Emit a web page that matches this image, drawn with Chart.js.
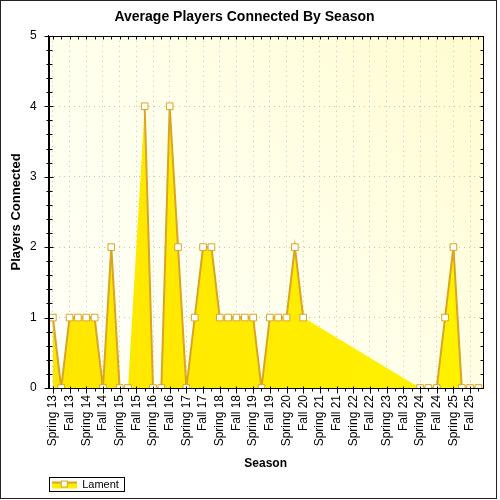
<!DOCTYPE html>
<html>
<head>
<meta charset="utf-8">
<script src="https://cdn.jsdelivr.net/npm/chart.js@4.4.1/dist/chart.umd.min.js"></script>
<style>
  html, body { margin: 0; padding: 0; background: #fff; }
</style>
</head>
<body>
<canvas id="grafico" width="500" height="500"></canvas>
<script>
const seasons = [
  "Spring 13", "Summer 13", "Fall 13", "Winter 13",
  "Spring 14", "Summer 14", "Fall 14", "Winter 14",
  "Spring 15", "Summer 15", "Fall 15", "Winter 15",
  "Spring 16", "Summer 16", "Fall 16", "Winter 16",
  "Spring 17", "Summer 17", "Fall 17", "Winter 17",
  "Spring 18", "Summer 18", "Fall 18", "Winter 18",
  "Spring 19", "Summer 19", "Fall 19", "Winter 19",
  "Spring 20", "Summer 20", "Fall 20", "Winter 20",
  "Spring 21", "Summer 21", "Fall 21", "Winter 21",
  "Spring 22", "Summer 22", "Fall 22", "Winter 22",
  "Spring 23", "Summer 23", "Fall 23", "Winter 23",
  "Spring 24", "Summer 24", "Fall 24", "Winter 24",
  "Spring 25", "Summer 25", "Fall 25", "Winter 25",
]
// null = no data for that season (area is still filled across the gap, line is not)
const lament = [
  1, 0, 1, 1,
  1, 1, 0, 2,
  0, 0, null, 4,
  0, 0, 4, 2,
  0, 1, 2, 2,
  1, 1, 1, 1,
  1, 0, 1, 1,
  1, 2, 1, null,
  null, null, null, null,
  null, null, null, null,
  null, null, null, null,
  0, 0, 0, 1,
  2, 0, 0, 0,
]
const yMin = 0
const yMax = 5
const yStep = 1

const FONT = "'Liberation Sans', Arial, sans-serif"
const GOLD = "#DAA520"
Chart.defaults.font.family = FONT
Chart.defaults.color = "#000"

// legend symbol: yellow band, gold line, white square marker
const icon = document.createElement("canvas")
icon.width = 25
icon.height = 10
const ic = icon.getContext("2d")
ic.fillStyle = "#FFEC00"
ic.fillRect(0, 2, 25, 7)
ic.fillStyle = GOLD
ic.fillRect(0, 2, 25, 2)
ic.fillStyle = "#fff"
ic.fillRect(9.5, 1.5, 6, 6)
ic.strokeStyle = GOLD
ic.lineWidth = 1
ic.strokeRect(9.5, 1.5, 6, 6)

function areaFill(ctx){
  const a = ctx.chart.chartArea
  if (!a) return "#FFEC00"
  const g = ctx.chart.ctx.createLinearGradient(a.left, 0, a.right, 0)
  g.addColorStop(0, "#FFE600")
  g.addColorStop(1, "#FFF200")
  return g
}

function line(ctx, x1, y1, x2, y2){
  ctx.beginPath()
  ctx.moveTo(x1, y1)
  ctx.lineTo(x2, y2)
  ctx.stroke()
}

const decor = {
  id: "decor",
  beforeDraw(chart){
    const ctx = chart.ctx
    const a = chart.chartArea
    ctx.save()
    ctx.fillStyle = "#fff"
    ctx.fillRect(0, 0, chart.width, chart.height)
    const g = ctx.createLinearGradient(a.left, a.bottom, a.right, a.top)
    g.addColorStop(0, "#FFFFF8")
    g.addColorStop(0.5, "#FFFFEA")
    g.addColorStop(1, "#FFFCCF")
    ctx.fillStyle = g
    ctx.fillRect(a.left, a.top, a.right - a.left, a.bottom - a.top)
    ctx.restore()
  },
  afterDatasetsDraw(chart){
    const ctx = chart.ctx
    const a = chart.chartArea
    const xs = chart.scales.x
    const ys = chart.scales.y
    ctx.save()
    ctx.strokeStyle = "#000"
    ctx.lineWidth = 1
    const L = Math.round(a.left) + 0.5
    const R = Math.round(a.right) + 0.5
    const T = Math.round(a.top) + 0.5
    const B = Math.round(a.bottom) + 0.5
    ctx.strokeRect(L, T, R - L, B - T)
    seasons.forEach((s, i) => {
      const px = Math.round(xs.getPixelForValue(i)) + 0.5
      if (i % 2 === 0) line(ctx, px, B - 2, px, B + 5)
      else line(ctx, px, B, px, B + 3)
      line(ctx, px, T, px, T + 3)
    })
    for (let k = 0; k <= (yMax - yMin) * 5; k++){
      const py = Math.round(ys.getPixelForValue(yMin + k / 5)) + 0.5
      if (k % 5 === 0) line(ctx, L - 5, py, L + 4, py)
      else line(ctx, L - 3, py, L + 3, py)
      line(ctx, R - 3, py, R, py)
    }
    ctx.restore()
  },
  afterDraw(chart){
    const ctx = chart.ctx
    ctx.save()
    ctx.strokeStyle = "#000"
    ctx.lineWidth = 1
    const hb = chart.legend.legendHitBoxes[0]
    if (hb){
      ctx.strokeRect(Math.round(hb.left - 3) + 0.5, Math.round(hb.top - 2) + 0.5, Math.round(hb.width + 8), 14)
    }
    ctx.strokeStyle = "#222"
    ctx.strokeRect(0.5, 0.5, 496, 498)
    ctx.restore()
  },
}

new Chart(document.getElementById("grafico"), {
  type: "line",
  data: {
    labels: seasons,
    datasets: [
      {
        // line + markers, broken where there is no data
        label: "Lament",
        data: lament,
        fill: false,
        borderColor: GOLD,
        borderWidth: 2,
        tension: 0,
        spanGaps: false,
        pointStyle: "rect",
        pointRadius: 4.7,
        pointBackgroundColor: "#fff",
        pointBorderColor: GOLD,
        pointBorderWidth: 1,
      },
      {
        // area, filled straight across the gaps
        label: "Lament area",
        data: lament,
        fill: "origin",
        backgroundColor: areaFill,
        borderWidth: 0,
        borderColor: "rgba(0,0,0,0)",
        tension: 0,
        spanGaps: true,
        pointRadius: 0,
      },
    ],
  },
  options: {
    responsive: false,
    animation: false,
    events: [],
    layout: { padding: { left: 5, right: 16, top: 0, bottom: 0 } },
    plugins: {
      title: {
        display: true,
        text: "Average Players Connected By Season",
        font: { size: 14, weight: "bold" },
        color: "#000",
        padding: { top: 9, bottom: 10 },
      },
      legend: {
        position: "bottom",
        align: "start",
        fullSize: false,
        labels: {
          filter: item => item.datasetIndex === 0,
          usePointStyle: true,
          pointStyle: icon,
          pointStyleWidth: 25,
          boxHeight: 11,
          padding: 3,
          font: { size: 11 },
          color: "#000",
        },
      },
      tooltip: { enabled: false },
    },
    scales: {
      x: {
        type: "category",
        offset: true,
        grid: {
          offset: false,
          drawTicks: false,
          color: ctx => ctx.index % 2 ? "rgba(0,0,0,0)" : "#c4c4c4",
        },
        border: { color: "#000", dash: [1, 4] },
        ticks: {
          autoSkip: false,
          minRotation: 90,
          maxRotation: 90,
          padding: 7,
          font: { size: 12 },
          color: "#000",
          callback: (v, i) => i % 2 ? "" : seasons[i],
        },
        title: {
          display: true,
          text: "Season",
          font: { size: 12, weight: "bold" },
          color: "#000",
          padding: { top: 4, bottom: 5 },
        },
        afterFit: s => { s.height = 88 },
      },
      y: {
        min: yMin,
        max: yMax,
        grid: {
          drawTicks: false,
          color: ctx => ctx.tick && ctx.tick.value > yMin && ctx.tick.value < yMax ? "#c4c4c4" : "rgba(0,0,0,0)",
        },
        border: { color: "#000", dash: [1, 4] },
        ticks: {
          stepSize: yStep,
          padding: 12,
          font: { size: 12 },
          color: "#000",
        },
        title: {
          display: true,
          text: "Players Connected",
          font: { size: 13, weight: "bold" },
          color: "#000",
          padding: { top: 4, bottom: 0 },
        },
        afterFit: s => { s.width = 43.7 },
      },
    },
  },
  plugins: [decor],
})
</script>
</body>
</html>
